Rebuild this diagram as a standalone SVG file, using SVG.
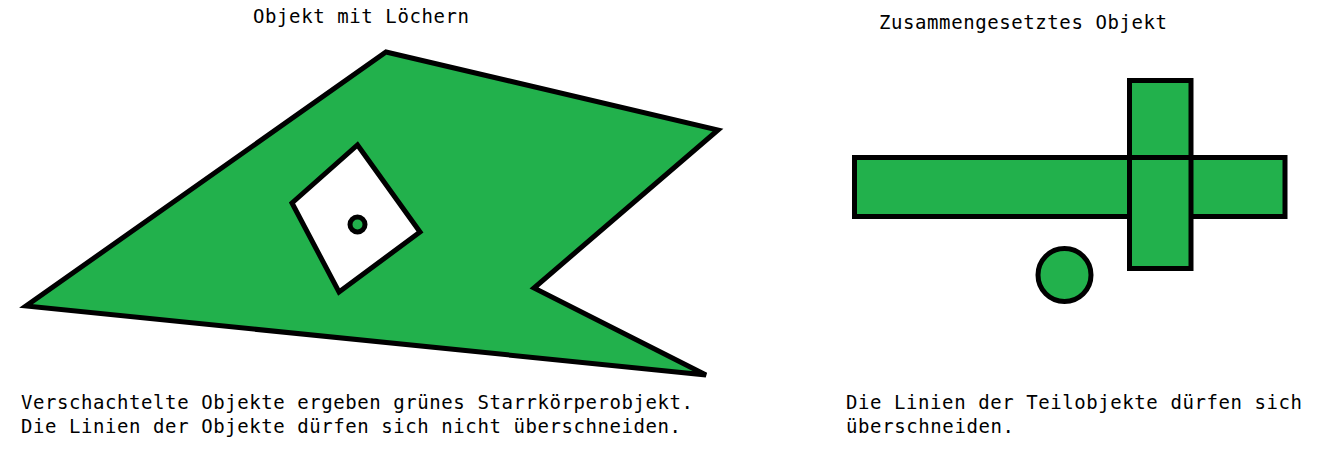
<svg xmlns="http://www.w3.org/2000/svg" width="1334" height="475" viewBox="0 0 1334 475">
<style>
.shape{fill:#22B14C;stroke:#000;stroke-width:5;stroke-linejoin:miter}
.hole{fill:#fff;stroke:#000;stroke-width:5;stroke-linejoin:miter}
.t{font-family:"DejaVu Sans Mono","Liberation Mono",monospace;font-size:19px;fill:#000}
</style>
<rect width="1334" height="475" fill="#fff"/>
<g id="left-object">
<polygon class="shape" points="386,52 718,130 534,288 706,375 26,306"/>
<polygon class="hole" points="357.5,145 420,232 339,292 292,203"/>
<circle class="shape" cx="357.5" cy="224.5" r="7.5" stroke-width="4"/>
</g>
<g id="compound-object">
<rect class="shape" x="854.5" y="157.5" width="430.5" height="59"/>
<rect class="shape" x="1129.5" y="80.5" width="61.5" height="188"/>
<line x1="1129.5" y1="157.5" x2="1129.5" y2="216.5" stroke="#000" stroke-width="5"/>
<line x1="1129.5" y1="157.5" x2="1191" y2="157.5" stroke="#000" stroke-width="5"/>
<circle class="shape" cx="1064.5" cy="275" r="26.5"/>
</g>
<g id="labels">
<text class="t" x="253" y="23" textLength="216">Objekt mit Löchern</text>
<text class="t" x="879" y="29" textLength="288">Zusammengesetztes Objekt</text>
<text class="t" x="21" y="409" textLength="672">Verschachtelte Objekte ergeben grünes Starrkörperobjekt.</text>
<text class="t" x="21" y="433" textLength="660">Die Linien der Objekte dürfen sich nicht überschneiden.</text>
<text class="t" x="846" y="409" textLength="456">Die Linien der Teilobjekte dürfen sich</text>
<text class="t" x="846" y="433" textLength="168">überschneiden.</text>
</g>
</svg>
